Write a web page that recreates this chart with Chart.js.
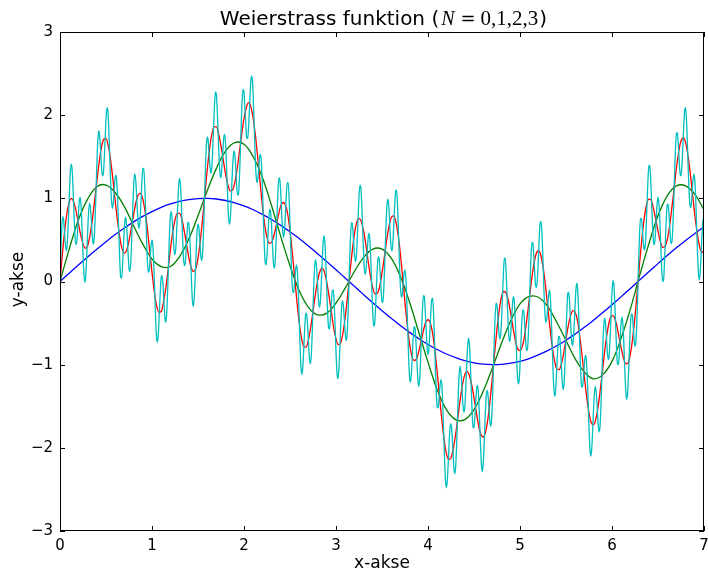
<!DOCTYPE html>
<html>
<head>
<meta charset="UTF-8">
<script src="https://cdn.jsdelivr.net/npm/chart.js@4.4.1/dist/chart.umd.min.js"></script>
<style>
body{margin:0;background:#fff}
</style>
<title>Weierstrass funktion</title>
</head>
<body>
<canvas id="chart" width="708" height="573"></canvas>
<script>
// N=3 (cyan), x step 0.01
const cyanY = [
0,0.38,0.66,0.78,0.73,0.58,0.43,0.37,0.47,0.7,1,1.27,1.41,1.37,1.17,0.88,0.61,0.45,0.45,0.6,0.8,0.97,1.01,0.89,
0.63,0.33,0.09,-0.01,0.07,0.29,0.58,0.82,0.94,0.9,0.74,0.56,0.45,0.49,0.7,1.03,1.39,1.68,1.81,1.76,1.6,1.4,1.27,1.29,
1.45,1.7,1.95,2.09,2.06,1.85,1.53,1.21,0.97,0.88,0.95,1.1,1.25,1.28,1.16,0.89,0.55,0.24,0.05,0.04,0.19,0.43,0.65,0.77,
0.73,0.56,0.34,0.16,0.12,0.25,0.53,0.86,1.14,1.29,1.26,1.09,0.87,0.69,0.64,0.74,0.96,1.2,1.36,1.36,1.19,0.88,0.53,0.25,
0.11,0.14,0.27,0.43,0.5,0.42,0.19,-0.13,-0.46,-0.68,-0.73,-0.61,-0.37,-0.12,0.05,0.07,-0.05,-0.25,-0.43,-0.49,-0.38,-0.11,0.24,0.58,
0.79,0.84,0.74,0.55,0.38,0.32,0.42,0.65,0.93,1.16,1.24,1.15,0.91,0.6,0.33,0.19,0.21,0.36,0.56,0.7,0.71,0.56,0.28,-0.02,
-0.24,-0.3,-0.18,0.07,0.36,0.6,0.69,0.64,0.48,0.32,0.25,0.34,0.6,0.97,1.34,1.62,1.74,1.7,1.54,1.38,1.3,1.37,1.59,1.88,
2.14,2.28,2.24,2.04,1.74,1.46,1.28,1.25,1.38,1.57,1.73,1.77,1.65,1.39,1.08,0.81,0.69,0.74,0.94,1.22,1.45,1.57,1.53,1.37,
1.17,1.04,1.05,1.24,1.55,1.9,2.18,2.31,2.27,2.09,1.88,1.73,1.72,1.86,2.09,2.33,2.47,2.44,2.23,1.91,1.56,1.3,1.19,1.23,
1.36,1.5,1.53,1.41,1.14,0.78,0.45,0.23,0.2,0.32,0.54,0.76,0.87,0.83,0.66,0.42,0.22,0.16,0.26,0.51,0.83,1.11,1.25,1.22,
1.05,0.81,0.61,0.53,0.61,0.81,1.04,1.19,1.19,1.02,0.7,0.34,0.04,-0.13,-0.13,-0.01,0.13,0.2,0.12,-0.11,-0.45,-0.79,-1.04,-1.12,
-1.02,-0.8,-0.56,-0.4,-0.38,-0.5,-0.71,-0.91,-0.99,-0.91,-0.67,-0.33,0,0.21,0.26,0.15,-0.04,-0.23,-0.31,-0.24,-0.03,0.24,0.46,0.55,
0.46,0.21,-0.11,-0.4,-0.56,-0.57,-0.43,-0.25,-0.11,-0.1,-0.25,-0.53,-0.84,-1.09,-1.17,-1.08,-0.85,-0.56,-0.33,-0.23,-0.29,-0.45,-0.62,-0.71,
-0.65,-0.41,-0.06,0.31,0.59,0.71,0.67,0.51,0.33,0.24,0.29,0.48,0.76,1.02,1.16,1.13,0.93,0.63,0.33,0.13,0.09,0.19,0.37,0.53,
0.58,0.47,0.21,-0.11,-0.39,-0.54,-0.51,-0.32,-0.05,0.18,0.3,0.27,0.11,-0.1,-0.24,-0.25,-0.08,0.22,0.56,0.85,0.99,0.95,0.78,0.56,
0.4,0.37,0.5,0.72,0.96,1.1,1.08,0.89,0.56,0.21,-0.06,-0.19,-0.16,-0.03,0.1,0.14,0.03,-0.23,-0.59,-0.93,-1.16,-1.21,-1.1,-0.88,
-0.66,-0.54,-0.57,-0.74,-0.97,-1.18,-1.26,-1.17,-0.93,-0.61,-0.33,-0.17,-0.18,-0.35,-0.58,-0.79,-0.88,-0.81,-0.62,-0.39,-0.22,-0.2,-0.36,-0.67,
-1.03,-1.34,-1.51,-1.52,-1.41,-1.26,-1.18,-1.24,-1.46,-1.79,-2.14,-2.39,-2.48,-2.39,-2.18,-1.93,-1.75,-1.71,-1.82,-2.02,-2.22,-2.31,-2.24,-2,
-1.66,-1.33,-1.09,-1.02,-1.12,-1.3,-1.49,-1.57,-1.51,-1.3,-1.03,-0.79,-0.68,-0.75,-0.98,-1.29,-1.58,-1.75,-1.76,-1.63,-1.43,-1.28,-1.25,-1.38,
-1.65,-1.95,-2.19,-2.29,-2.2,-1.97,-1.67,-1.43,-1.31,-1.34,-1.48,-1.65,-1.74,-1.68,-1.45,-1.09,-0.71,-0.41,-0.26,-0.29,-0.43,-0.6,-0.69,-0.64,
-0.45,-0.16,0.11,0.28,0.28,0.1,-0.19,-0.48,-0.68,-0.72,-0.62,-0.42,-0.25,-0.18,-0.27,-0.5,-0.81,-1.09,-1.23,-1.2,-1.01,-0.74,-0.48,-0.34,
-0.35,-0.49,-0.68,-0.82,-0.83,-0.66,-0.36,0,0.31,0.47,0.46,0.31,0.11,-0.05,-0.07,0.05,0.29,0.54,0.71,0.72,0.55,0.24,-0.1,-0.37,
-0.49,-0.46,-0.32,-0.17,-0.1,-0.19,-0.43,-0.77,-1.1,-1.32,-1.38,-1.26,-1.04,-0.8,-0.66,-0.66,-0.8,-1.02,-1.22,-1.3,-1.21,-0.96,-0.63,-0.33,
-0.14,-0.13,-0.27,-0.49,-0.69,-0.77,-0.7,-0.51,-0.26,-0.07,-0.02,-0.16,-0.44,-0.79,-1.09,-1.26,-1.27,-1.15,-0.99,-0.89,-0.92,-1.12,-1.43,-1.76,
-2.01,-2.1,-2.01,-1.79,-1.52,-1.33,-1.26,-1.35,-1.53,-1.72,-1.81,-1.74,-1.5,-1.15,-0.8,-0.54,-0.44,-0.51,-0.68,-0.86,-0.94,-0.88,-0.67,-0.38,
-0.13,0.01,-0.04,-0.24,-0.54,-0.82,-0.99,-1,-0.86,-0.66,-0.49,-0.43,-0.54,-0.79,-1.08,-1.32,-1.42,-1.33,-1.1,-0.79,-0.53,-0.39,-0.4,-0.53,
-0.69,-0.78,-0.72,-0.49,-0.13,0.27,0.59,0.76,0.76,0.63,0.47,0.38,0.42,0.61,0.91,1.2,1.38,1.4,1.25,0.97,0.69,0.49,0.44,0.54,
0.74,0.93,1.01,0.94,0.74,0.43,0.15,0,0.02,0.21,0.49,0.76,0.92,0.93,0.8,0.61,0.47,0.46,0.62,0.92,1.28,1.6,1.78,1.79,
1.66,1.46,1.3,1.27,1.38,1.62,1.88,2.06,2.09,1.93,1.64,1.3,1.03,0.89,0.91,1.05,1.21,1.29,1.22,0.99,0.66,0.33,0.09,0.02,
0.13,0.35,0.59,0.75,0.76
];
// N=2 (red), x step 0.025
const redY = [
0,0.32,0.6,0.82,0.95,1,0.95,0.85,0.7,0.56,0.45,0.4,0.43,0.55,0.73,0.96,1.2,1.43,1.61,1.71,1.72,1.63,1.46,1.23,
0.97,0.73,0.53,0.39,0.34,0.38,0.49,0.64,0.8,0.95,1.04,1.06,0.99,0.84,0.63,0.37,0.11,-0.12,-0.29,-0.37,-0.36,-0.25,-0.08,0.14,
0.38,0.59,0.74,0.82,0.82,0.75,0.61,0.45,0.29,0.17,0.12,0.15,0.28,0.49,0.75,1.05,1.34,1.59,1.77,1.86,1.86,1.77,1.63,1.46,
1.29,1.16,1.09,1.1,1.19,1.35,1.56,1.77,1.96,2.09,2.15,2.1,1.96,1.75,1.48,1.19,0.91,0.68,0.53,0.46,0.47,0.55,0.67,0.8,
0.91,0.95,0.92,0.81,0.61,0.35,0.06,-0.24,-0.49,-0.68,-0.78,-0.79,-0.7,-0.55,-0.36,-0.16,0.01,0.12,0.16,0.11,-0.01,-0.18,-0.37,-0.56,
-0.69,-0.76,-0.74,-0.62,-0.43,-0.18,0.09,0.35,0.57,0.71,0.76,0.72,0.61,0.44,0.24,0.06,-0.08,-0.15,-0.14,-0.06,0.1,0.29,0.49,0.66,
0.77,0.79,0.72,0.56,0.33,0.04,-0.26,-0.53,-0.75,-0.9,-0.95,-0.93,-0.84,-0.72,-0.59,-0.49,-0.46,-0.5,-0.62,-0.83,-1.09,-1.38,-1.66,-1.9,
-2.07,-2.14,-2.12,-2.01,-1.84,-1.63,-1.42,-1.24,-1.12,-1.08,-1.13,-1.24,-1.4,-1.57,-1.73,-1.84,-1.87,-1.81,-1.66,-1.43,-1.15,-0.85,-0.57,-0.34,
-0.18,-0.12,-0.14,-0.24,-0.39,-0.56,-0.71,-0.81,-0.83,-0.78,-0.65,-0.45,-0.22,0.01,0.2,0.33,0.37,0.32,0.18,-0.03,-0.29,-0.55,-0.78,-0.95,
-1.05,-1.06,-0.99,-0.86,-0.69,-0.53,-0.41,-0.35,-0.37,-0.47,-0.66,-0.89,-1.15,-1.39,-1.58,-1.7,-1.72,-1.65,-1.5,-1.28,-1.04,-0.8,-0.6,-0.46,
-0.41,-0.43,-0.52,-0.66,-0.8,-0.92,-0.99,-0.98,-0.87,-0.68,-0.42,-0.11,0.22,0.52,0.76,0.92,0.99,0.98,0.88,0.75,0.61,0.48,0.41,0.42,
0.5,0.66,0.88,1.12,1.36,1.56,1.69,1.73,1.67,1.52,1.31,1.06,0.8,0.59,0.43,0.35,0.36
];
// N=1 (green), x step 0.1
const greenY = [
0,0.39,0.74,0.99,1.14,1.16,1.07,0.9,0.67,0.45,0.27,0.18,0.18,0.3,0.51,0.79,1.09,1.36,1.57,1.67,1.65,1.5,1.25,0.91,
0.54,0.19,-0.11,-0.31,-0.4,-0.38,-0.26,-0.08,0.12,0.29,0.39,0.39,0.28,0.06,-0.25,-0.61,-0.97,-1.3,-1.54,-1.66,-1.66,-1.54,-1.32,-1.04,
-0.74,-0.47,-0.27,-0.18,-0.19,-0.3,-0.49,-0.71,-0.93,-1.09,-1.17,-1.12,-0.96,-0.68,-0.33,0.07,0.45,0.79,1.03,1.15,1.15,1.05,0.86
];
// N=0 (blue), x step 0.1
const blueY = [
0,0.1,0.199,0.296,0.389,0.479,0.565,0.644,0.717,0.783,0.841,0.891,0.932,0.964,0.985,0.997,1,0.992,0.974,0.946,0.909,0.863,0.808,0.746,
0.675,0.598,0.516,0.427,0.335,0.239,0.141,0.042,-0.058,-0.158,-0.256,-0.351,-0.443,-0.53,-0.612,-0.688,-0.757,-0.818,-0.872,-0.916,-0.952,-0.978,-0.994,-1,
-0.996,-0.982,-0.959,-0.926,-0.883,-0.832,-0.773,-0.706,-0.631,-0.551,-0.465,-0.374,-0.279,-0.182,-0.083,0.017,0.117,0.215,0.312,0.405,0.494,0.578,0.657
];
const xTicks = [0,1,2,3,4,5,6,7];
const yTicks = [-3,-2,-1,0,1,2,3];

function pts(arr, step){ return arr.map((v,i)=>({x:i*step, y:v})); }
function fmt(v){ return v < 0 ? '\u2212' + Math.abs(v) : String(v); }

// box round the plot, inward ticks on all four sides, title and axis labels
const frame = {
  id:'frame',
  afterDraw(chart){
    const c = chart.ctx, a = chart.chartArea;
    const xs = chart.scales.x, ys = chart.scales.y;
    c.save();
    c.strokeStyle = '#000'; c.lineWidth = 1;
    c.strokeRect(Math.round(a.left)+0.5, Math.round(a.top)+0.5, Math.round(a.right-a.left)-1, Math.round(a.bottom-a.top)-1);
    c.beginPath();
    xTicks.forEach(v=>{ const p=Math.round(xs.getPixelForValue(v))+0.5; c.moveTo(p,a.bottom); c.lineTo(p,a.bottom-5); c.moveTo(p,a.top); c.lineTo(p,a.top+5); });
    yTicks.forEach(v=>{ const p=Math.round(ys.getPixelForValue(v))+0.5; c.moveTo(a.left,p); c.lineTo(a.left+5,p); c.moveTo(a.right,p); c.lineTo(a.right-5,p); });
    c.stroke();

    c.fillStyle = '#000';
    c.textBaseline = 'alphabetic';
    const parts = [
      ['Weierstrass funktion (', '20px "DejaVu Sans"', 2],
      ['N', 'italic 20px "Liberation Serif"', 6],
      ['=', '18px "DejaVu Serif"', 5],
      ['0,1,2,3', '21px "Liberation Serif"', 1],
      [')', '20px "DejaVu Sans"', 0]
    ];
    let w = 0;
    parts.forEach(p=>{ c.font=p[1]; w += c.measureText(p[0]).width + p[2]; });
    let x = (a.left + a.right)/2 + 1.5 - w/2;
    parts.forEach(p=>{ c.font=p[1]; c.fillText(p[0], x, 25); x += c.measureText(p[0]).width + p[2]; });

    c.font = '17px "DejaVu Sans"';
    c.textAlign = 'center';
    c.fillText('x-akse', (a.left + a.right)/2, 568);
    c.translate(23, (a.top + a.bottom)/2 - 2);
    c.rotate(-Math.PI/2);
    c.fillText('y-akse', 0, 0);
    c.restore();
  }
};

new Chart(document.getElementById('chart'), {
  type: 'line',
  data: {
    datasets: [
      {label:'N=3', data: pts(cyanY, 0.01), borderColor:'#00bfbf', cubicInterpolationMode:'monotone'},
      {label:'N=2', data: pts(redY, 0.025), borderColor:'#ff0000', cubicInterpolationMode:'monotone'},
      {label:'N=1', data: pts(greenY, 0.1), borderColor:'#008000', tension: 0.4},
      {label:'N=0', data: pts(blueY, 0.1), borderColor:'#0000ff', tension: 0.4}
    ]
  },
  options: {
    responsive: false,
    animation: false,
    layout: { padding: { left: 0, right: 4, top: 32, bottom: 0 } },
    elements: {
      point: { radius: 0 },
      line: { borderWidth: 1.3, fill: false }
    },
    plugins: { legend: { display: false }, tooltip: { enabled: false } },
    scales: {
      x: {
        type: 'linear', min: 0, max: 7,
        afterBuildTicks: s => { s.ticks = xTicks.map(v=>({value:v})); },
        afterFit: s => { s.height = 42; s.paddingLeft = 0; s.paddingRight = 0; },
        grid: { display: false, drawTicks: false },
        border: { display: false },
        ticks: { color:'#000', padding: 6, font:{family:'DejaVu Sans', size:15}, callback: fmt, maxRotation: 0 }
      },
      y: {
        min: -3, max: 3,
        afterBuildTicks: s => { s.ticks = yTicks.map(v=>({value:v})); },
        afterFit: s => { s.width = 60; },
        grid: { display: false, drawTicks: false },
        border: { display: false },
        ticks: { color:'#000', padding: 7, font:{family:'DejaVu Sans', size:15}, callback: fmt }
      }
    }
  },
  plugins: [frame]
});
</script>
</body>
</html>
